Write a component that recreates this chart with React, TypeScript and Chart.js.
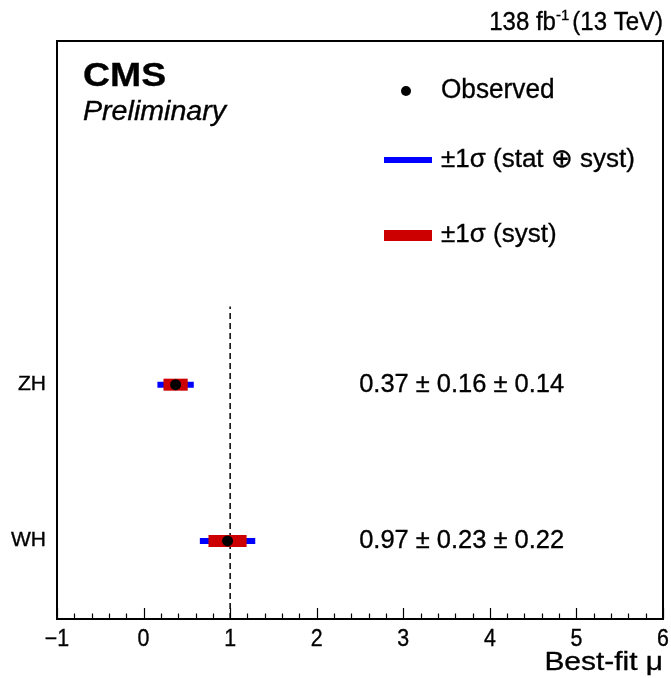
import React, { useEffect, useRef } from 'react';
import { Chart, registerables } from 'chart.js';

Chart.register(...registerables);

// ---- data ----
const categories = ['ZH', 'WH'];
const categoryPos = [1.5, 0.5];
const bestFit = [0.37, 0.97];
const statErr = [0.16, 0.23];
const systErr = [0.14, 0.22];
const totalErr = [0.21, 0.32];
const xTickValues = [-1, 0, 1, 2, 3, 4, 5, 6];
const smReference = 1;
const smLineTop = 2;

const X_MIN = -1;
const X_MAX = 6;
const Y_MIN = 0;
const Y_MAX = 3.7;
const LABEL_X = 2.49;

const FONT = "'Liberation Sans', Arial, Helvetica, sans-serif";
const BLUE = '#0000ff';
const RED = '#cc0000';

function txt(
  ctx: CanvasRenderingContext2D,
  s: string,
  x: number,
  y: number,
  font: string,
  align: CanvasTextAlign,
  baseline: CanvasTextBaseline,
  hs = 1,
) {
  ctx.save();
  ctx.font = font;
  ctx.textAlign = align;
  ctx.textBaseline = baseline;
  ctx.translate(x, y);
  ctx.scale(hs, 1);
  ctx.fillStyle = '#000';
  ctx.strokeStyle = '#000';
  ctx.lineWidth = 0.35;
  ctx.fillText(s, 0, 0);
  ctx.strokeText(s, 0, 0);
  ctx.restore();
}

const overlay = {
  id: 'cmsOverlay',
  afterDraw(chart: any) {
    const ctx: CanvasRenderingContext2D = chart.ctx;
    const xs = chart.scales.x;
    const ys = chart.scales.y;
    const a = chart.chartArea;
    ctx.save();

    // frame
    ctx.strokeStyle = '#000';
    ctx.lineWidth = 2;
    ctx.strokeRect(a.left, a.top, a.right - a.left, a.bottom - a.top);

    // inner ticks on bottom axis
    ctx.lineWidth = 1.2;
    for (let i = 0; i <= (X_MAX - X_MIN) * 5; i++) {
      const v = X_MIN + i * 0.2;
      const px = Math.round(xs.getPixelForValue(v)) + 0.5;
      const major = i % 5 === 0;
      const len = major ? 11 : 5.5;
      ctx.beginPath();
      ctx.moveTo(px, a.bottom);
      ctx.lineTo(px, a.bottom - len);
      ctx.stroke();
    }

    // tick labels
    xTickValues.forEach((v) => {
      const t = v < 0 ? '\u2212' + Math.abs(v) : String(v);
      txt(ctx, t, xs.getPixelForValue(v), a.bottom + 9, `23px ${FONT}`, 'center', 'top', 0.93);
    });

    // x title
    txt(ctx, 'Best-fit \u03bc', a.right, 670, `26px ${FONT}`, 'right', 'alphabetic', 1.15);

    // category labels
    categories.forEach((c, i) => {
      txt(ctx, c, a.left - 11, ys.getPixelForValue(categoryPos[i]), `20px ${FONT}`, 'right', 'middle', 1.05);
    });

    // value labels
    categories.forEach((c, i) => {
      const t = `${bestFit[i].toFixed(2)} \u00b1 ${statErr[i].toFixed(2)} \u00b1 ${systErr[i].toFixed(2)}`;
      txt(ctx, t, xs.getPixelForValue(LABEL_X), ys.getPixelForValue(categoryPos[i]), `26px ${FONT}`, 'left', 'middle', 0.98);
    });

    // top right lumi text
    const base = 30;
    ctx.font = `25px ${FONT}`;
    const p1 = '138 fb';
    const p3 = '(13 TeV)';
    const w1 = ctx.measureText(p1).width * 0.96;
    const w3 = ctx.measureText(p3).width * 0.96;
    ctx.font = `15px ${FONT}`;
    const p2 = '-1';
    const w2 = ctx.measureText(p2).width;
    const total = w1 + w2 + 3 + w3;
    let xx = a.right - total;
    txt(ctx, p1, xx, base, `25px ${FONT}`, 'left', 'alphabetic', 0.96);
    xx += w1;
    txt(ctx, p2, xx, base - 10, `15px ${FONT}`, 'left', 'alphabetic', 1);
    xx += w2 + 3;
    txt(ctx, p3, xx, base, `25px ${FONT}`, 'left', 'alphabetic', 0.96);

    // CMS / Preliminary
    txt(ctx, 'CMS', 83, 86, `bold 34px ${FONT}`, 'left', 'alphabetic', 1.1);
    txt(ctx, 'Preliminary', 83, 120, `italic 27px ${FONT}`, 'left', 'alphabetic', 1.06);

    // legend
    ctx.fillStyle = '#000';
    ctx.beginPath();
    ctx.arc(406, 91, 5, 0, Math.PI * 2);
    ctx.fill();
    txt(ctx, 'Observed', 441, 91, `27px ${FONT}`, 'left', 'middle', 0.97);

    ctx.fillStyle = BLUE;
    ctx.fillRect(384, 157, 48, 6);
    ctx.fillStyle = RED;
    ctx.fillRect(384, 230, 48, 11);
    txt(ctx, '\u00b11\u03c3 (stat \u2295 syst)', 441, 160, `26px ${FONT}`, 'left', 'middle', 1.0);
    txt(ctx, '\u00b11\u03c3 (syst)', 441, 235, `26px ${FONT}`, 'left', 'middle', 1.0);

    ctx.restore();
  },
};

export default function App() {
  const ref = useRef<HTMLCanvasElement | null>(null);

  useEffect(() => {
    if (!ref.current) return;
    const datasets: any[] = [];
    datasets.push({
      data: [
        { x: smReference, y: Y_MIN },
        { x: smReference, y: smLineTop },
      ],
      showLine: true,
      borderColor: '#000',
      borderWidth: 1.5,
      borderDash: [6, 4],
      pointRadius: 0,
      order: 5,
    });
    categories.forEach((c, i) => {
      datasets.push({
        data: [
          { x: bestFit[i] - totalErr[i], y: categoryPos[i] },
          { x: bestFit[i] + totalErr[i], y: categoryPos[i] },
        ],
        showLine: true,
        borderColor: BLUE,
        borderWidth: 6,
        borderCapStyle: 'butt',
        pointRadius: 0,
        order: 4,
      });
      datasets.push({
        data: [
          { x: bestFit[i] - systErr[i], y: categoryPos[i] },
          { x: bestFit[i] + systErr[i], y: categoryPos[i] },
        ],
        showLine: true,
        borderColor: RED,
        borderWidth: 12,
        borderCapStyle: 'butt',
        pointRadius: 0,
        order: 3,
      });
    });
    datasets.push({
      data: categories.map((c, i) => ({ x: bestFit[i], y: categoryPos[i] })),
      showLine: false,
      pointRadius: 5.5,
      pointBackgroundColor: '#000',
      pointBorderColor: '#000',
      pointBorderWidth: 0,
      order: 1,
    });

    const chart = new Chart(ref.current, {
      type: 'scatter',
      data: { datasets },
      options: {
        responsive: false,
        animation: false,
        events: [],
        layout: { padding: { left: 57, right: 8, top: 41, bottom: 59 } },
        plugins: { legend: { display: false }, tooltip: { enabled: false } },
        scales: {
          x: { type: 'linear', min: X_MIN, max: X_MAX, display: false },
          y: { type: 'linear', min: Y_MIN, max: Y_MAX, display: false },
        },
      },
      plugins: [overlay],
    });
    return () => chart.destroy();
  }, []);

  return (
    <div style={{ position: 'absolute', left: 0, top: 0, width: 671, height: 678, background: '#fff' }}>
      <canvas ref={ref} width={671} height={678} style={{ display: 'block' }} />
    </div>
  );
}
